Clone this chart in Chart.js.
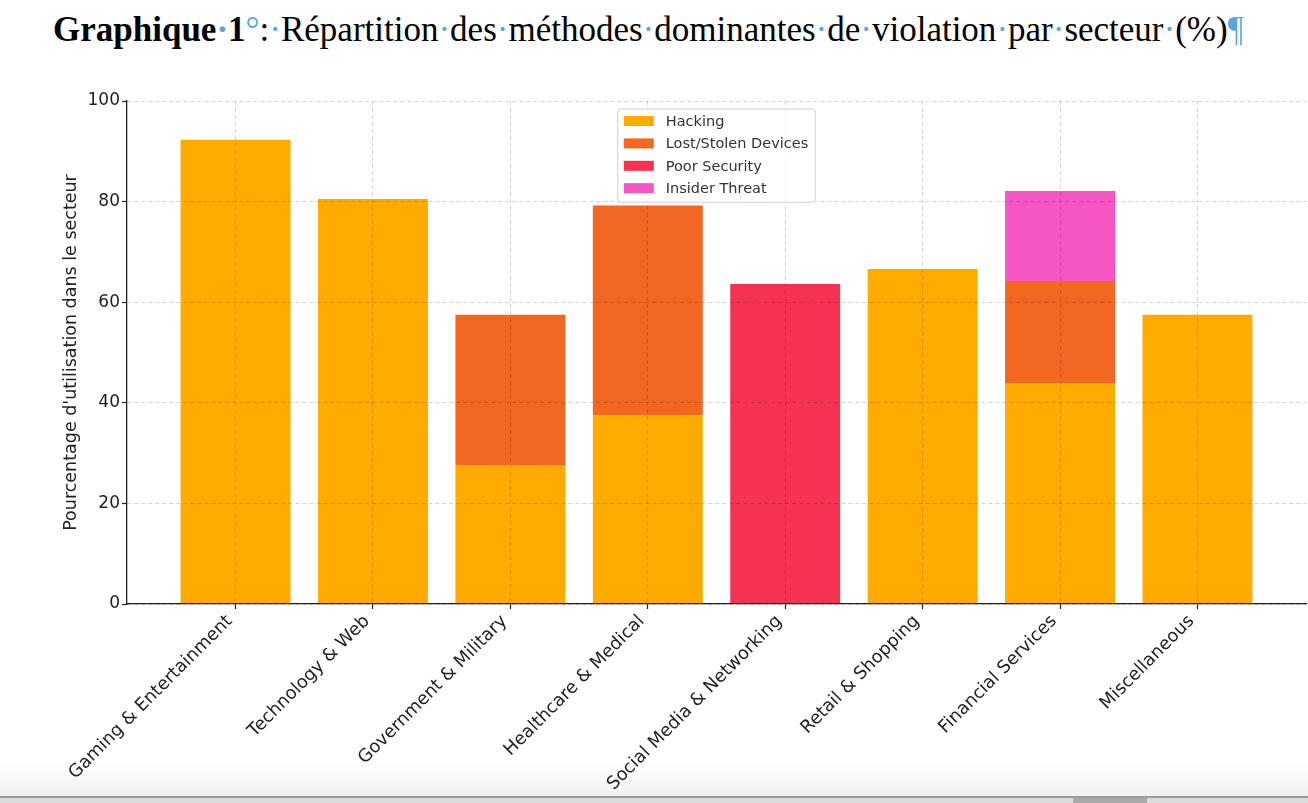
<!DOCTYPE html>
<html>
<head>
<meta charset="utf-8">
<script src="https://cdn.jsdelivr.net/npm/chart.js@4.4.1/dist/chart.umd.min.js"></script>
<style>
  html, body { margin: 0; padding: 0; background: #fff; }
  body { width: 1308px; height: 803px; position: relative; overflow: hidden; }
  #doc-title {
    position: absolute; left: 53px; top: 12px;
    font-family: "Liberation Serif", "Times New Roman", serif;
    font-size: 35px; line-height: 35px; color: #000; white-space: nowrap;
  }
  #doc-title b { font-weight: bold; }
  #doc-title .mk { color: #5aa6dc; }
  #wrap { position: absolute; left: 0; top: 80px; width: 1308px; height: 720px; }
  #fade { position: absolute; left: 0; top: 762px; width: 1308px; height: 34px;
    background: linear-gradient(#ffffff, #f1f1f1); }
  #bar1 { position: absolute; left: 0; top: 796px; width: 1308px; height: 2px; background: #9b9b9b; }
  #bar2 { position: absolute; left: 0; top: 798px; width: 1308px; height: 5px; background: #dcdcdc; }
  #thumb { position: absolute; left: 1073px; top: 798px; width: 74px; height: 5px; background: #a9a9a9; }
</style>
</head>
<body>
<div id="doc-title"><b>Graphique<span class="mk">·</span>1</b><span class="mk">°</span>:<span class="mk">·</span>Répartition<span class="mk">·</span>des<span class="mk">·</span>méthodes<span class="mk">·</span>dominantes<span class="mk">·</span>de<span class="mk">·</span>violation<span class="mk">·</span>par<span class="mk">·</span>secteur<span class="mk">·</span>(%)<span class="mk">¶</span></div>
<div id="fade"></div>
<div id="wrap"><canvas id="graphique"></canvas></div>
<div id="bar1"></div><div id="bar2"></div><div id="thumb"></div>
<script>
const categories = [
    "Gaming & Entertainment",
    "Technology & Web",
    "Government & Military",
    "Healthcare & Medical",
    "Social Media & Networking",
    "Retail & Shopping",
    "Financial Services",
    "Miscellaneous"
];

const hacking = [92.3, 80.5, 27.5, 37.5, 0, 66.6, 43.8, 57.5];
const lostStolen = [0, 0, 30.0, 41.7, 0, 0, 20.4, 0];
const poorSecurity = [0, 0, 0, 0, 63.6, 0, 0, 0];
const insiderThreat = [0, 0, 0, 0, 0, 0, 17.9, 0];

const yTicks = [0, 20, 40, 60, 80, 100];

const font = "'DejaVu Sans', sans-serif";

// legende dans la zone du graphique (en haut, centree)
const legendeInterne = {
    id: "legendeInterne",
    afterDraw(chart) {
        const ctx = chart.ctx;
        const area = chart.chartArea;
        const sets = chart.data.datasets;
        ctx.save();
        ctx.font = "14.5px " + font;
        let maxW = 0;
        sets.forEach(d => { maxW = Math.max(maxW, ctx.measureText(d.label).width); });
        const w = 6 + 30 + 12 + maxW + 7;
        const rowH = 22.4;
        const h = 12 + rowH * (sets.length - 1) + 14;
        const x = (area.left + area.right) / 2 - w / 2;
        const y = area.top + 8;
        ctx.beginPath();
        ctx.roundRect(x, y, w, h, 3);
        ctx.fillStyle = "rgba(255,255,255,0.85)";
        ctx.fill();
        ctx.strokeStyle = "#d0d0d0";
        ctx.lineWidth = 1;
        ctx.stroke();
        ctx.textBaseline = "middle";
        sets.forEach((d, i) => {
            const cy = y + 12 + i * rowH;
            ctx.fillStyle = d.backgroundColor;
            ctx.fillRect(x + 6, cy - 5, 30, 10);
            ctx.fillStyle = "#333";
            ctx.fillText(d.label, x + 48, cy + 1);
        });
        ctx.restore();
    }
};

new Chart(document.getElementById("graphique"), {
    type: "bar",

    data: {
        labels: categories.map((c, i) => i),
        datasets: [
            { label: "Hacking", data: hacking, backgroundColor: "#ffab00" },
            { label: "Lost/Stolen Devices", data: lostStolen, backgroundColor: "#f26722" },
            { label: "Poor Security", data: poorSecurity, backgroundColor: "#f43354" },
            { label: "Insider Threat", data: insiderThreat, backgroundColor: "#f655c4" }
        ]
    },

    options: {
        responsive: true,
        maintainAspectRatio: false,
        animation: false,
        layout: { padding: { top: 21, right: 2, left: 0, bottom: 0 } },
        datasets: {
            bar: { categoryPercentage: 1, barPercentage: 0.8, borderWidth: 0 }
        },
        plugins: {
            legend: { display: false },
            tooltip: { enabled: false }
        },

        scales: {
            x: {
                type: "linear",
                stacked: true,
                offset: false,
                min: -0.79,
                max: 7.79,
                afterBuildTicks: s => { s.ticks = categories.map((c, i) => ({ value: i })); },
                afterFit: s => { s.height = 196; },
                ticks: {
                    color: "#222",
                    font: { family: font, size: 17.8 },
                    minRotation: 45,
                    maxRotation: 45,
                    autoSkip: false,
                    padding: 2,
                    labelOffset: -6,
                    callback: v => categories[v]
                },
                grid: {
                    z: 1,
                    offset: false,
                    color: "rgba(0,0,0,0.17)",
                    tickColor: "#222",
                    tickLength: 5,
                    tickWidth: 1.2
                },
                border: { display: true, z: 1, color: "#222", width: 1.3, dash: [4, 3] }
            },

            y: {
                stacked: true,
                min: 0,
                max: 100,
                afterBuildTicks: s => { s.ticks = yTicks.map(v => ({ value: v })); },
                afterFit: s => { s.width = 127; },
                ticks: {
                    color: "#222",
                    font: { family: font, size: 17 },
                    padding: 2
                },
                grid: {
                    z: 1,
                    color: "rgba(0,0,0,0.17)",
                    tickColor: "#222",
                    tickLength: 5,
                    tickWidth: 1.2
                },
                border: { display: true, z: 1, color: "#222", width: 1.3, dash: [4, 3] },
                title: {
                    display: true,
                    text: "Pourcentage d'utilisation dans le secteur",
                    color: "#222",
                    font: { family: font, size: 17.5 },
                    padding: { top: 61, bottom: 0 }
                }
            }
        }
    },
    plugins: [legendeInterne]
});
</script>
</body>
</html>
